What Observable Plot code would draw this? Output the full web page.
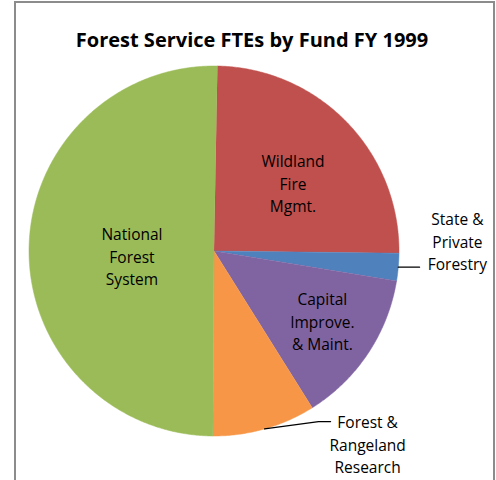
<!DOCTYPE html>
<html>
<head>
<meta charset="utf-8">
<script src="https://cdn.jsdelivr.net/npm/d3@7"></script>
<script src="https://cdn.jsdelivr.net/npm/@observablehq/plot@0.6"></script>
<style>
  html, body { margin: 0; padding: 0; background: #fff; }
  #wrap { position: relative; width: 496px; height: 480px; overflow: hidden; }
  #frame { position: absolute; left: 14px; top: 1px; width: 481px; height: 540px;
           border: 2px solid #8c8c8c; box-sizing: border-box; pointer-events: none; z-index: 2; }
</style>
</head>
<body>
<div id="wrap"><div id="frame"></div></div>
<script>
// ---- data (clockwise from 12 o'clock) ----
const funds = ["Wildland Fire Mgmt.", "State & Private Forestry", "Capital Improve. & Maint.", "Forest & Rangeland Research", "National Forest System"];
const labels = ["Wildland\nFire\nMgmt.", "State &\nPrivate\nForestry", "Capital\nImprove.\n& Maint.", "Forest &\nRangeland\nResearch", "National\nForest\nSystem"];
const shares = [24.9, 2.4, 13.5, 9.0, 50.2]; // percent of FTEs
const title = "Forest Service FTEs by Fund FY 1999";

// ---- style / layout ----
const colors = ["#C0504D", "#4F81BD", "#8064A2", "#F79646", "#9BBB59"];
const W = 496, H = 480, CX = 213.5, CY = 250.5, R = 185;
const rotationDeg = 1.06;
// label placement: [angle deg clockwise from top, radius as fraction of R]
const labelPolar = [[49.1, 0.565], [87.5, 1.317], [122.7, 0.696], [141.4, 1.331], [266.9, 0.444]];
// leader lines for outside labels: extra points after the slice edge (unit coords)
const leaders = [
  {slice: 1, pts: [[1.111, null]]},
  {slice: 3, pts: [[0.565, -0.922], [0.630, -0.922]]}
];

const rad = d => d * Math.PI / 180;
const pol = (a, r) => [r * Math.sin(a), r * Math.cos(a)];

const pie = d3.pie().sort(null).startAngle(rad(rotationDeg)).endAngle(rad(rotationDeg) + 2 * Math.PI);
const arcs = pie(shares);

// polygons for slices
const slicePts = [];
arcs.forEach((a, i) => {
  slicePts.push({fund: funds[i], u: 0, v: 0});
  const n = Math.max(2, Math.ceil((a.endAngle - a.startAngle) / rad(0.5)));
  for (let k = 0; k <= n; k++) {
    const t = a.startAngle + (a.endAngle - a.startAngle) * k / n;
    const [u, v] = pol(t, 1);
    slicePts.push({fund: funds[i], u, v});
  }
});

const labelData = arcs.map((a, i) => {
  const [u, v] = pol(rad(labelPolar[i][0]), labelPolar[i][1]);
  return {text: labels[i], u, v};
});

const leaderPts = [];
leaders.forEach(L => {
  const a = arcs[L.slice];
  const [u0, v0] = pol((a.startAngle + a.endAngle) / 2, 1.0);
  leaderPts.push({id: L.slice, u: u0, v: v0});
  L.pts.forEach(([u, v]) => leaderPts.push({id: L.slice, u, v: v == null ? v0 : v}));
});

const chart = Plot.plot({
  width: W, height: H, margin: 0,
  x: {domain: [-CX / R, (W - CX) / R], axis: null},
  y: {domain: [(CY - H) / R, CY / R], axis: null},
  color: {domain: funds, range: colors},
  style: {fontFamily: "'Open Sans', Lato, sans-serif", background: "transparent"},
  marks: [
    Plot.line(slicePts, {x: "u", y: "v", z: "fund", fill: "fund", stroke: "fund", strokeWidth: 0.5}),
    Plot.line(leaderPts, {x: "u", y: "v", z: "id", stroke: "#000", strokeWidth: 1.3}),
    Plot.text(labelData, {x: "u", y: "v", text: "text", fontSize: 15.5, lineHeight: 1.45, lineAnchor: "middle", fill: "#000"}),
    Plot.text([title], {frameAnchor: "top", dy: 40, dx: 3.5, text: d => d, fontSize: 20, fontWeight: "bold", lineAnchor: "middle", fill: "#000"})
  ]
});
document.getElementById("wrap").appendChild(chart);
</script>
</body>
</html>
